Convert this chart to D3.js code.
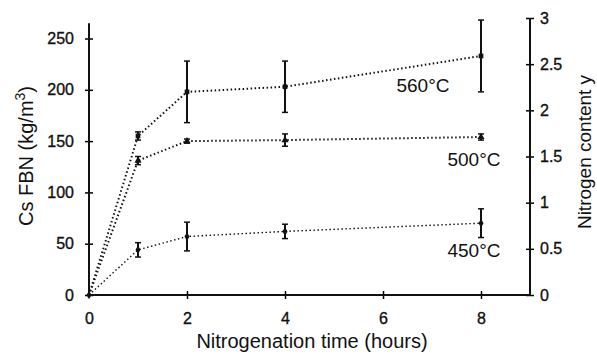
<!DOCTYPE html>
<html>
<head>
<meta charset="utf-8">
<script src="https://cdn.jsdelivr.net/npm/d3@7"></script>
<style>
  body { margin: 0; background: #fff; }
  svg { font-family: "Liberation Sans", Arial, sans-serif; }
  .lbl { stroke: #111; stroke-width: 0.35px; }
</style>
</head>
<body>
<div id="chart"></div>
<script>
const hours = [0, 1, 2, 4, 8];
const series = ['560°C', '500°C', '450°C'];
const cs560 = [0, 155, 198, 203, 233];
const err560 = [0, 4, 30, 25, 35];
const cs500 = [0, 131, 150, 151, 154];
const err500 = [0, 4, 2, 6, 3];
const cs450 = [0, 44, 57, 62, 70];
const err450 = [0, 7, 14, 7, 14];
const xTicks = [0, 2, 4, 6, 8];
const leftTicks = [0, 50, 100, 150, 200, 250];
const rightTicks = [0, 0.5, 1, 1.5, 2, 2.5, 3];

const width = 597, height = 355;
const svg = d3.select('#chart').append('svg').attr('width', width).attr('height', height);

const x = d3.scaleLinear().domain([0, 9]).range([89, 530]);
const y = d3.scaleLinear().domain([0, 270]).range([295, 18]);
const y2 = d3.scaleLinear().domain([0, 3]).range([295, 18]);

// axes
const gx = svg.append('g').attr('transform', `translate(0,${y(0)})`)
  .call(d3.axisBottom(x).tickValues(xTicks).tickSizeOuter(0).tickSize(4));
gx.select('.domain').remove();
gx.selectAll('.tick line').attr('y1', -4).attr('y2', 4).attr('stroke-width', 1.5);
gx.selectAll('.tick text').attr('y', 18).attr('font-size', 16).attr('fill', '#111').attr('class', 'lbl');
gx.select('.tick:first-of-type line').remove();

const gy = svg.append('g').attr('transform', `translate(${x(0)},0)`)
  .call(d3.axisLeft(y).tickValues(leftTicks).tickSize(4));
gy.select('.domain').remove();
gy.selectAll('.tick line').attr('x1', 4).attr('x2', -4).attr('stroke-width', 1.5);
gy.selectAll('.tick text').attr('x', -15).attr('font-size', 16).attr('fill', '#111').attr('class', 'lbl');

const gy2 = svg.append('g').attr('transform', `translate(${x(9)},0)`)
  .call(d3.axisRight(y2).tickValues(rightTicks).tickSize(4).tickFormat(d3.format('')));
gy2.select('.domain').remove();
gy2.selectAll('.tick line').attr('x1', -4).attr('x2', 4).attr('stroke-width', 1.5);
gy2.selectAll('.tick text').attr('x', 10).attr('font-size', 16).attr('fill', '#111').attr('class', 'lbl');

svg.append('line').attr('x1', x(0)).attr('x2', x(9)).attr('y1', y(0)).attr('y2', y(0))
  .attr('stroke', '#111').attr('stroke-width', 2);
svg.append('line').attr('x1', x(0)).attr('x2', x(0)).attr('y1', y(0)).attr('y2', y(265))
  .attr('stroke', '#111').attr('stroke-width', 2);
svg.append('line').attr('x1', x(9)).attr('x2', x(9)).attr('y1', y2(0)).attr('y2', y2(3))
  .attr('stroke', '#111').attr('stroke-width', 2);

// axis titles
svg.append('text').attr('x', 312).attr('y', 348).attr('text-anchor', 'middle')
  .attr('font-size', 20).attr('fill', '#111').text('Nitrogenation time (hours)');
svg.append('text').attr('transform', 'translate(33,156) rotate(-90)').attr('text-anchor', 'middle')
  .attr('font-size', 20).attr('fill', '#111')
  .html('Cs FBN (kg/m<tspan dy="-8" font-size="14">3</tspan><tspan dy="8">)</tspan>');
svg.append('text').attr('transform', 'translate(591,152) rotate(-90)').attr('text-anchor', 'middle')
  .attr('font-size', 19).attr('fill', '#111').text('Nitrogen content y');

// series
const data = [
  { name: series[0], vals: cs560, errs: err560, sym: d3.symbolSquare, w: 2, lx: 423, ly: 92 },
  { name: series[1], vals: cs500, errs: err500, sym: d3.symbolTriangle, w: 2, lx: 474, ly: 166 },
  { name: series[2], vals: cs450, errs: err450, sym: d3.symbolDiamond, w: 1.4, lx: 474, ly: 257 }
];

const line = d3.line().x((d, i) => x(hours[i])).y(d => y(d));

data.forEach(s => {
  const g = svg.append('g');
  g.append('path').attr('d', line(s.vals)).attr('fill', 'none')
    .attr('stroke', '#111').attr('stroke-width', s.w).attr('stroke-dasharray', '1.5,2.5');
  hours.forEach((h, i) => {
    if (i === 0) return;
    const cx = x(h), v = s.vals[i], e = s.errs[i];
    g.append('line').attr('x1', cx).attr('x2', cx).attr('y1', y(v - e)).attr('y2', y(v + e))
      .attr('stroke', '#111').attr('stroke-width', 2);
    [v - e, v + e].forEach(c => {
      g.append('line').attr('x1', cx - 3).attr('x2', cx + 3).attr('y1', y(c)).attr('y2', y(c))
        .attr('stroke', '#111').attr('stroke-width', 1.5);
    });
    g.append('path').attr('d', d3.symbol().type(s.sym).size(22)())
      .attr('transform', `translate(${cx},${y(v)})`).attr('fill', '#111');
  });
  svg.append('text').attr('x', s.lx).attr('y', s.ly).attr('text-anchor', 'middle')
    .attr('font-size', 19).attr('fill', '#111').text(s.name);
});

svg.append('path').attr('d', d3.symbol().type(d3.symbolDiamond).size(22)())
  .attr('transform', `translate(${x(0)},${y(0)})`).attr('fill', '#111');
</script>
</body>
</html>
